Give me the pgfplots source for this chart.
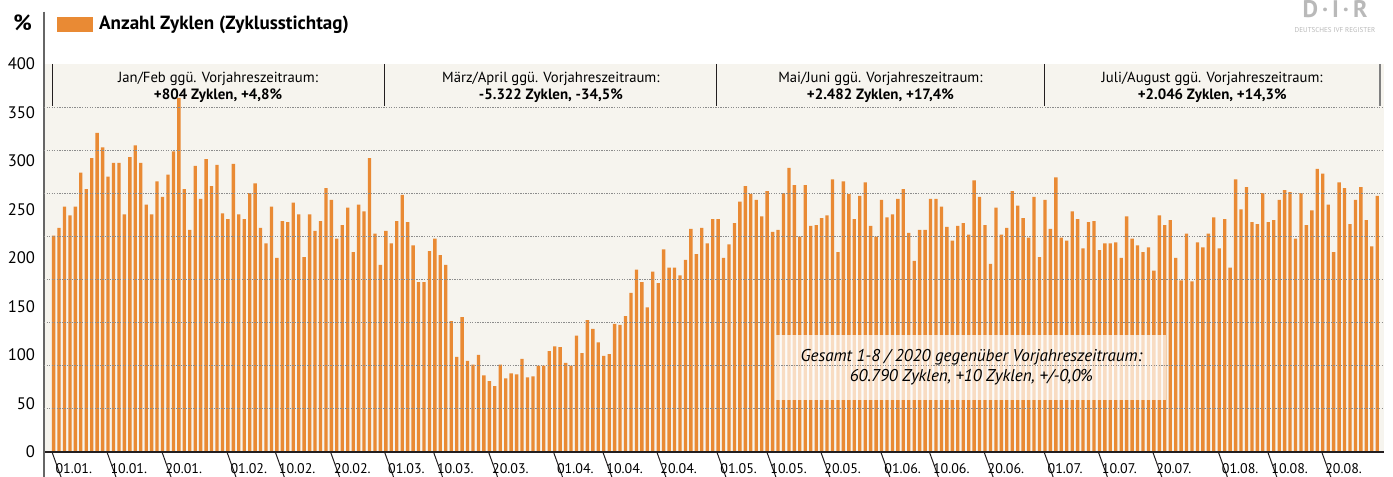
\documentclass[border=0pt]{standalone}
\usepackage{fontspec}
\setmainfont{PT Sans}
\usepackage{pgfplots}
\pgfplotsset{compat=1.18}

\definecolor{barorange}{RGB}{233,138,52}
\definecolor{bgbeige}{RGB}{246,244,238}
\definecolor{gridgrey}{RGB}{140,140,140}
\definecolor{axisdark}{RGB}{35,31,32}

\begin{document}
\begin{tikzpicture}[x=0.75pt,y=0.75pt]
\begin{axis}[
    scale only axis,
    width=1005pt, height=291pt,
    xmin=-1.76, xmax=244.25,
    ymin=0, ymax=400,
    clip=false,
    axis on top,
    axis background/.style={fill=bgbeige},
    axis line style={draw=none},
    ybar, bar width=2.5pt,
    major tick length=0pt,
    ytick={0,50,...,400},
    ytick style={draw=none},
    yticklabel style={font=\fontsize{12.5}{14}\selectfont, anchor=east, inner sep=0pt, xshift=-6.5pt},
    extra y ticks={44.44,88.89,133.33,177.78,222.22,266.67,311.11,355.56},
    extra y tick labels={},
    extra y tick style={grid=major, major grid style={draw=gridgrey, dash pattern=on 1pt off 0.9pt, line width=0.75pt}},
    xtick={-0.29,9.80,19.90,31.83,40.7,50.85,60.76,69.75,79.85,91.78,100.84,110.75,121.77,130.95,140.86,151.87,160.79,170.83,181.85,191.81,201.80,213.84,222.91,232.82},
    xticklabels={01.01.,10.01.,20.01.,01.02.,10.02.,20.02.,01.03.,10.03.,20.03.,01.04.,10.04.,20.04.,01.05.,10.05.,20.05.,01.06.,10.06.,20.06.,01.07.,10.07.,20.07.,01.08.,10.08.,20.08.},
    xtick style={draw=none},
    xticklabel style={font=\fontsize{10.5}{12}\selectfont, anchor=base west, inner sep=0pt, xshift=2.5pt, yshift=-16.3pt},
    /pgf/number format/assume math mode=true,
    ylabel={\textbf{\%}},
    ylabel style={rotate=-90, at={(axis description cs:-0.016,1.106)}, anchor=center, font=\fontsize{16.5}{18}\selectfont},
    legend style={at={(axis description cs:0.0097,1.1026)}, anchor=west, draw=none, fill=none, inner sep=0pt,
        font=\bfseries\fontsize{14.3}{16}\selectfont},
]
\addplot[fill=barorange, draw=none,
    legend image code/.code={\fill[barorange] (0pt,-5.6pt) rectangle (27pt,5.6pt);}]
coordinates {
(0,223) (1,231) (2,253) (3,244) (4,253) (5,288) (6,271) (7,303) (8,329) (9,314)
(10,284) (11,298) (12,298) (13,245) (14,304) (15,316) (16,298) (17,255) (18,245) (19,279)
(20,263) (21,286) (22,310) (23,365) (24,271) (25,229) (26,295) (27,261) (28,302) (29,274)
(30,296) (31,246) (32,240) (33,297) (34,245) (35,240) (36,267) (37,277) (38,231) (39,215)
(40,253) (41,200) (42,238) (43,237) (44,257) (45,245) (46,201) (47,245) (48,228) (49,238)
(50,272) (51,260) (52,220) (53,234) (54,252) (55,206) (56,255) (57,248) (58,303) (59,225)
(60,193) (61,228) (62,215) (63,238) (64,265) (65,237) (66,213) (67,175) (68,175) (69,207)
(70,220) (71,203) (72,193) (73,135) (74,98) (75,139) (76,94) (77,90) (78,100) (79,79)
(80,73) (81,68) (82,90) (83,76) (84,81) (85,80) (86,96) (87,77) (88,78) (89,89)
(90,89) (91,104) (92,109) (93,108) (94,92) (95,89) (96,120) (97,102) (98,136) (99,127)
(100,113) (101,99) (102,101) (103,132) (104,131) (105,140) (106,164) (107,188) (108,175) (109,149)
(110,186) (111,174) (112,209) (113,190) (114,190) (115,182) (116,198) (117,230) (118,204) (119,231)
(120,215) (121,240) (122,240) (123,200) (124,214) (125,236) (126,258) (127,274) (128,266) (129,260)
(130,243) (131,269) (132,227) (133,229) (134,267) (135,293) (136,275) (137,222) (138,275) (139,233)
(140,234) (141,241) (142,244) (143,281) (144,206) (145,279) (146,266) (147,240) (148,264) (149,278)
(150,233) (151,222) (152,260) (153,242) (154,245) (155,261) (156,271) (157,226) (158,197) (159,229)
(160,229) (161,261) (162,261) (163,253) (164,232) (165,218) (166,233) (167,236) (168,224) (169,280)
(170,263) (171,234) (172,194) (173,252) (174,224) (175,231) (176,269) (177,254) (178,241) (179,221)
(180,263) (181,201) (182,260) (183,230) (184,283) (185,221) (186,218) (187,248) (188,240) (189,210)
(190,237) (191,238) (192,208) (193,215) (194,215) (195,216) (196,200) (197,243) (198,220) (199,213)
(200,206) (201,211) (202,187) (203,244) (204,234) (205,239) (206,200) (207,177) (208,225) (209,176)
(210,216) (211,211) (212,225) (213,242) (214,210) (215,240) (216,190) (217,281) (218,250) (219,273)
(220,237) (221,235) (222,267) (223,237) (224,239) (225,260) (226,270) (227,268) (228,220) (229,267)
(230,234) (231,249) (232,292) (233,287) (234,255) (235,206) (236,278) (237,272) (238,235) (239,260)
(240,273) (241,239) (242,212) (243,264)
};
\addlegendentry{\,Anzahl Zyklen (Zyklusstichtag)}

% axis lines
\draw[axisdark, line width=1.5pt] (rel axis cs:0,0) -- (rel axis cs:1,0);
\draw[gray!80!black, line width=1.3pt] (rel axis cs:0,1.135) -- (rel axis cs:0,-0.065);

% separators below the axis
\pgfplotsinvokeforeach{-0.29,9.80,19.90,31.83,40.7,50.85,60.76,69.75,79.85,91.78,100.84,110.75,121.77,130.95,140.86,151.87,160.79,170.83,181.85,191.81,201.80,213.84,222.91,232.82}{
    \draw[axisdark, line width=0.75pt] (axis cs:#1,0) -- ++(0,-20pt);
}

% header boxes
\pgfplotsinvokeforeach{-0.29,60.76,121.77,181.85}{
    \draw[axisdark, line width=0.75pt] (axis cs:#1,400) -- (axis cs:#1,357);
}
\draw[gray, line width=1.5pt] (axis cs:243.5,400) -- (axis cs:243.5,357);

\node[anchor=base, font=\fontsize{11}{12}\selectfont] at (axis cs:30.2,381) {Jan/Feb ggü. Vorjahreszeitraum:};
\node[anchor=base, font=\bfseries\fontsize{11.2}{12}\selectfont] at (axis cs:30.2,363) {+804 Zyklen, +4,8\%};
\node[anchor=base, font=\fontsize{11}{12}\selectfont] at (axis cs:91.3,381) {März/April ggü. Vorjahreszeitraum:};
\node[anchor=base, font=\bfseries\fontsize{11.2}{12}\selectfont] at (axis cs:91.3,363) {-5.322 Zyklen, -34,5\%};
\node[anchor=base, font=\fontsize{11}{12}\selectfont] at (axis cs:151.8,381) {Mai/Juni ggü. Vorjahreszeitraum:};
\node[anchor=base, font=\bfseries\fontsize{11.2}{12}\selectfont] at (axis cs:151.8,363) {+2.482 Zyklen, +17,4\%};
\node[anchor=base, font=\fontsize{11}{12}\selectfont] at (axis cs:212.7,381) {Juli/August ggü. Vorjahreszeitraum:};
\node[anchor=base, font=\bfseries\fontsize{11.2}{12}\selectfont] at (axis cs:212.7,363) {+2.046 Zyklen, +14,3\%};

% total box
\fill[white, fill opacity=0.7] (axis cs:132.65,53.6) rectangle (axis cs:204.2,120.6);
\node[anchor=base, font=\itshape\fontsize{12.8}{14}\selectfont] at (axis cs:168.5,92.8) {Gesamt 1-8 / 2020 gegenüber Vorjahreszeitraum:};
\node[anchor=base, font=\itshape\fontsize{12.8}{14}\selectfont] at (axis cs:168.5,72.2) {60.790 Zyklen, +10 Zyklen, +/-0,0\%};
\end{axis}

% logo
\node[text=gray!55, inner sep=0pt, anchor=north, align=center] at (1291,451.5)
    {{\bfseries\fontsize{18}{15}\selectfont D\,·\,I\,·\,R}\\[-1pt]{\fontsize{5.3}{6}\selectfont DEUTSCHES IVF REGISTER}};

\pgfresetboundingbox
\useasboundingbox (-44,-25) rectangle (1349,452);
\end{tikzpicture}
\end{document}
